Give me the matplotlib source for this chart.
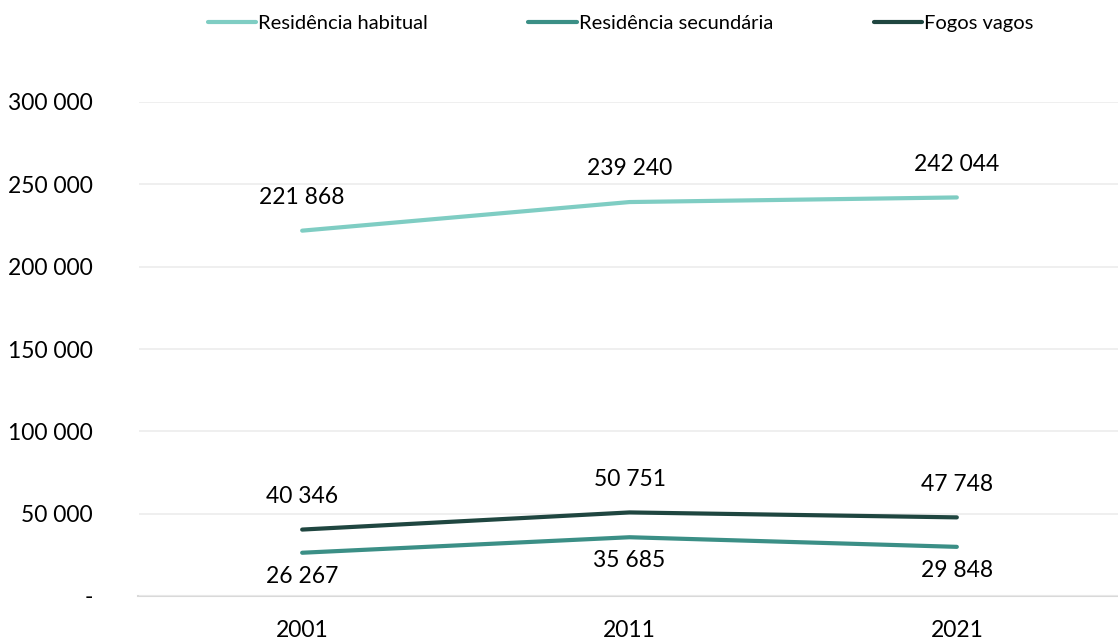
import matplotlib
matplotlib.use("Agg")
import matplotlib.pyplot as plt
from matplotlib.ticker import FuncFormatter

plt.rcParams['font.family'] = ['Lato', 'DejaVu Sans']

years = ['2001', '2011', '2021']
habitual = [221868, 239240, 242044]
secundaria = [26267, 35685, 29848]
vagos = [40346, 50751, 47748]
series_names = ['Residência habitual', 'Residência secundária', 'Fogos vagos']
colors = ['#7fcdc3', '#3b8f86', '#1f4640']


def fmt(v, pos=None):
    if v == 0:
        return '-'
    return f"{int(round(v)):,}".replace(',', ' ')


fig = plt.figure(figsize=(11.18, 6.41), dpi=100)
ax = fig.add_axes([138.5 / 1118, 45 / 641, 982 / 1118, 494 / 641])

x = list(range(len(years)))
data = [habitual, secundaria, vagos]
for vals, name, c in zip(data, series_names, colors):
    ax.plot(x, vals, color=c, lw=3, solid_capstyle='round', label=name, zorder=3)

# data labels
for i, v in enumerate(habitual):
    ax.annotate(fmt(v), (i, v), xytext=(0, 24), textcoords='offset points',
                ha='center', va='center', fontsize=16.5)
for i, v in enumerate(vagos):
    ax.annotate(fmt(v), (i, v), xytext=(0, 24), textcoords='offset points',
                ha='center', va='center', fontsize=16.5)
for i, v in enumerate(secundaria):
    ax.annotate(fmt(v), (i, v), xytext=(0, -17), textcoords='offset points',
                ha='center', va='center', fontsize=16.5)

ax.set_xlim(-0.5, 2.5)
ax.set_ylim(0, 300000)
ax.set_yticks(range(0, 300001, 50000))
ax.yaxis.set_major_formatter(FuncFormatter(fmt))
ax.set_xticks(x)
ax.set_xticklabels(years)
ax.tick_params(axis='both', length=0, labelsize=16.5)
ax.tick_params(axis='y', pad=33)
ax.tick_params(axis='x', pad=17)
for lab in ax.get_yticklabels():
    lab.set_horizontalalignment('right')

ax.grid(axis='y', color='#ececec', lw=1.2, zorder=0)
for s in ['top', 'right', 'left']:
    ax.spines[s].set_visible(False)
ax.spines['bottom'].set_color('#d9d9d9')
ax.spines['bottom'].set_linewidth(1.5)
ax.spines['bottom'].set_zorder(1)

fig.legend(loc='center', bbox_to_anchor=(0.555, 0.963), ncol=3, frameon=False,
           fontsize=14.5, handlelength=2.4, handletextpad=0.1, columnspacing=5.0)

fig.savefig('out.png', dpi=100, facecolor='white')
